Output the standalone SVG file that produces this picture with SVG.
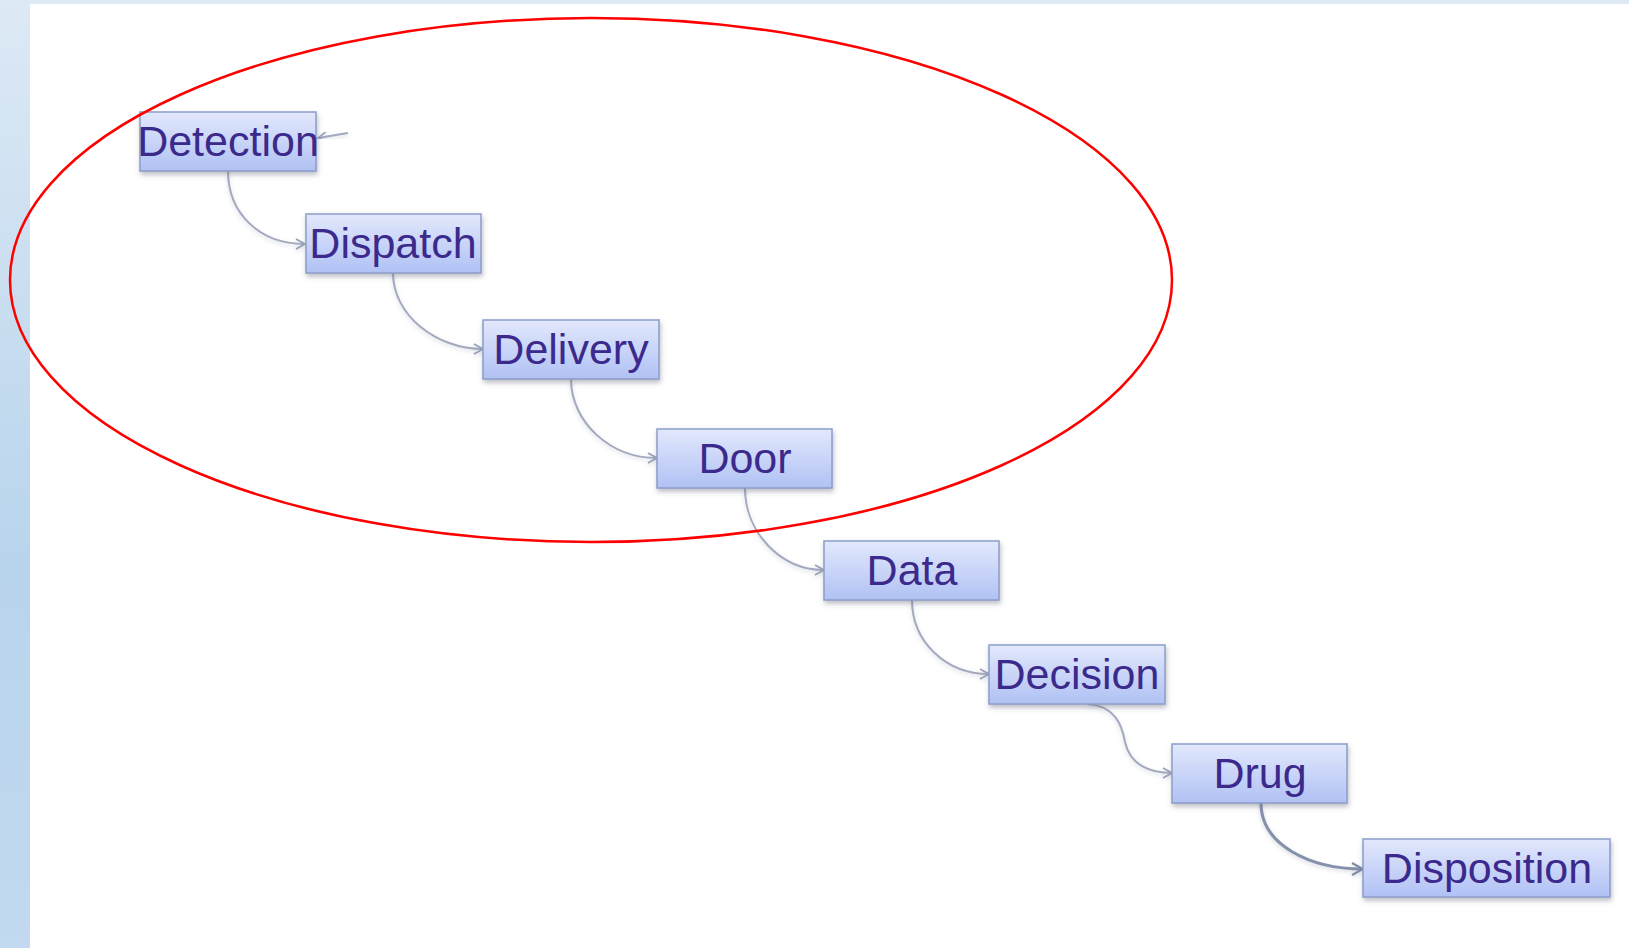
<svg xmlns="http://www.w3.org/2000/svg" width="1629" height="948" viewBox="0 0 1629 948">
<defs>
<linearGradient id="strip" x1="0" y1="0" x2="0" y2="1">
<stop offset="0" stop-color="#dde9f5"/>
<stop offset="0.6" stop-color="#b8d4ec"/>
<stop offset="1" stop-color="#c2d9ef"/>
</linearGradient>
<linearGradient id="boxfill" x1="0" y1="0" x2="0" y2="1">
<stop offset="0" stop-color="#e2e8fc"/>
<stop offset="1" stop-color="#b0c1f4"/>
</linearGradient>
<filter id="shadow" x="-10%" y="-20%" width="120%" height="150%">
<feDropShadow dx="1" dy="3" stdDeviation="2.5" flood-color="#6a7080" flood-opacity="0.45"/>
</filter>
<filter id="soft" x="-20%" y="-20%" width="140%" height="140%">
<feDropShadow dx="0" dy="2" stdDeviation="2" flood-color="#8a90a8" flood-opacity="0.35"/>
</filter>
<marker id="arr" markerWidth="12" markerHeight="12" refX="10" refY="6" orient="auto" markerUnits="userSpaceOnUse">
<path d="M1,1 L10,6 L1,11" fill="none" stroke="#98a0b8" stroke-width="1.6"/>
</marker>
<marker id="arr2" markerWidth="14" markerHeight="14" refX="12" refY="7" orient="auto" markerUnits="userSpaceOnUse">
<path d="M1,1 L12,7 L1,13" fill="none" stroke="#7f8aa6" stroke-width="2"/>
</marker>
</defs>
<style>
.box{fill:url(#boxfill);stroke:#8c9dc9;stroke-width:1.5;filter:url(#shadow)}
.lbl{font-family:"Liberation Sans",Arial,sans-serif;font-size:43px;fill:#3b2a8c;text-anchor:middle}
.con{fill:none;stroke:#a3a9be;stroke-width:2;filter:url(#soft)}
</style>
<rect x="0" y="0" width="1629" height="948" fill="#ffffff"/>
<rect x="0" y="0" width="1629" height="4" fill="#dde9f5"/>
<rect x="0" y="0" width="30" height="948" fill="url(#strip)"/>

<g id="connectors">
<path class="con" d="M348,133 L318,138" marker-end="url(#arr)"/>
<path class="con" d="M228,171 C228,212 258,244 305,244" marker-end="url(#arr)"/>
<path class="con" d="M393,273 C393,315 436,349 483,349" marker-end="url(#arr)"/>
<path class="con" d="M571,379 C571,422 610,458 657,458" marker-end="url(#arr)"/>
<path class="con" d="M745,488 C745,532 780,570 824,570" marker-end="url(#arr)"/>
<path class="con" d="M912,600 C912,642 946,674 989,674" marker-end="url(#arr)"/>
<path class="con" d="M1088,704 C1115,706 1122,725 1125,742 C1130,765 1150,773 1172,773" marker-end="url(#arr)"/>
<path class="con" style="stroke:#8590ab;stroke-width:3" d="M1261,803 C1261,845 1310,869 1363,869" marker-end="url(#arr2)"/>
</g>

<g id="n-detection"><rect class="box" x="140" y="112" width="176" height="59"/><text class="lbl" x="228" y="156">Detection</text></g>
<g id="n-dispatch"><rect class="box" x="306" y="214" width="175" height="59"/><text class="lbl" x="393" y="258">Dispatch</text></g>
<g id="n-delivery"><rect class="box" x="483" y="320" width="176" height="59"/><text class="lbl" x="571" y="364">Delivery</text></g>
<g id="n-door"><rect class="box" x="657" y="429" width="175" height="59"/><text class="lbl" x="745" y="473">Door</text></g>
<g id="n-data"><rect class="box" x="824" y="541" width="175" height="59"/><text class="lbl" x="912" y="585">Data</text></g>
<g id="n-decision"><rect class="box" x="989" y="645" width="176" height="59"/><text class="lbl" x="1077" y="689">Decision</text></g>
<g id="n-drug"><rect class="box" x="1172" y="744" width="175" height="59"/><text class="lbl" x="1260" y="788">Drug</text></g>
<g id="n-disposition"><rect class="box" x="1363" y="839" width="247" height="58"/><text class="lbl" x="1487" y="883">Disposition</text></g>

<ellipse id="highlight" cx="591" cy="280" rx="581" ry="262" fill="none" stroke="#ff0000" stroke-width="2.5"/>
</svg>
